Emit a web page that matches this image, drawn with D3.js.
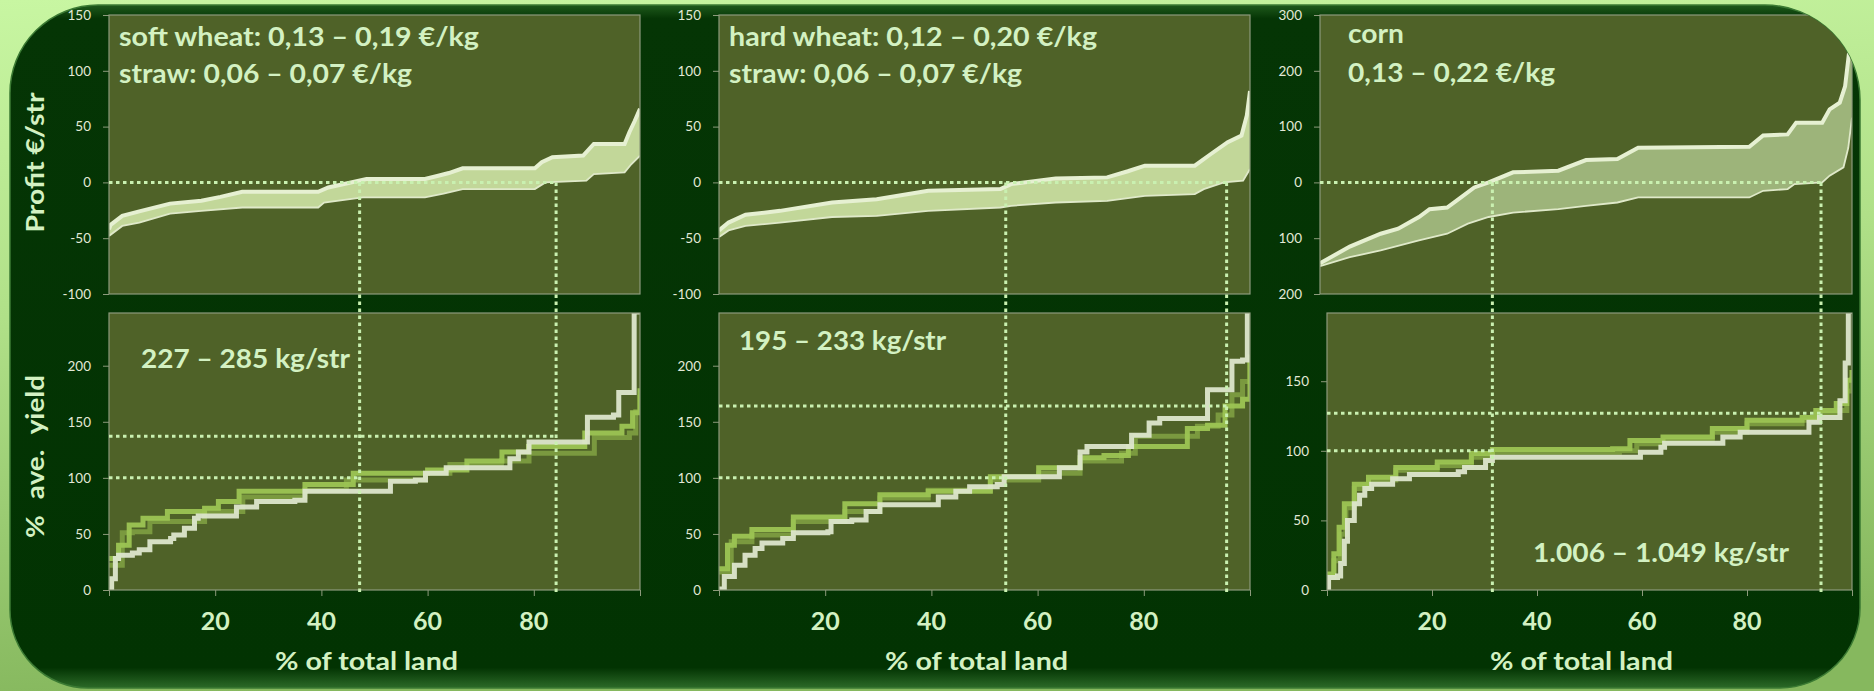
<!DOCTYPE html>
<html><head><meta charset="utf-8">
<script src="https://cdn.jsdelivr.net/npm/d3@7"></script>
<style>html,body{margin:0;padding:0;background:#b6e48c;overflow:hidden}text{font-family:Lato,"Open Sans",sans-serif}</style>
</head><body><svg id="c" width="1874" height="691"></svg>
<script>
// ---------- DATA ----------
const xTickValues = [20, 40, 60, 80];
const xTickMarks = [0, 20, 40, 60, 80, 100];
const profitTicksWheat = [-100, -50, 0, 50, 100, 150];
const profitLabelsWheat = ["-100", "-50", "0", "50", "100", "150"];
const profitTicksCorn = [-200, -100, 0, 100, 200, 300];
const profitLabelsCorn = ["200", "100", "0", "100", "200", "300"];
const yieldTicksWheat = [0, 50, 100, 150, 200];
const yieldTicksCorn = [0, 50, 100, 150];

const profitTitle = "Profit €/str";
const yieldTitle = "% ave. yield";
const xTitle = "% of total land";

const softPriceText = ["soft wheat: 0,13 – 0,19 €/kg", "straw: 0,06 – 0,07 €/kg"];
const hardPriceText = ["hard wheat: 0,12 – 0,20 €/kg", "straw: 0,06 – 0,07 €/kg"];
const cornPriceText = ["corn", "0,13 – 0,22 €/kg"];
const softYieldText = "227 – 285 kg/str";
const hardYieldText = "195 – 233 kg/str";
const cornYieldText = "1.006 – 1.049 kg/str";

// profit bands [% of land, €/str]
const softProfitHigh = [[0,-42],[0.3,-38],[2.5,-30],[5.7,-26],[11.5,-19],[17.4,-16.5],[21,-13],[25.1,-8.4],[39.4,-8.4],[41.3,-4.5],[48.5,3],[59.5,3],[62,6],[64,8.4],[66.6,12.6],[80.2,12.6],[81.5,18],[83.5,22.5],[89.3,24],[91.3,34.4],[97.1,34.4],[98,45],[99,55],[100,66]];
const softProfitLow = [[0,-48],[2.5,-39],[5.7,-36],[11.5,-28],[17.4,-25.5],[25.1,-22.5],[39.4,-22.5],[40.5,-18],[47.8,-13.5],[59.5,-13.5],[63,-10],[66.6,-6],[80.2,-6],[82.2,0],[89.9,1.5],[91.3,7.5],[97.1,9],[98.4,16.5],[100,24]];
const hardProfitHigh = [[0,-43],[1.8,-36],[5,-29],[11.5,-25.5],[21.3,-18],[29.7,-15],[39.4,-7.5],[53,-6],[55,-1.5],[63.4,3.6],[73.1,4.5],[77,10],[80.2,15],[89.6,15],[92.5,25],[95.8,36],[98.4,42],[99.4,60],[100,82]];
const hardProfitLow = [[0,-49],[1.8,-43],[5,-39],[11.5,-36],[21.3,-31],[29.7,-30],[39.4,-25.5],[53,-22.5],[55,-21],[63.4,-18],[73.1,-16.5],[80.2,-12],[89.6,-10.5],[91.3,-6],[95.1,0],[98.7,1.5],[100,12]];
const cornProfitHigh = [[0,-145],[5.6,-115],[11.4,-92],[14.7,-83],[18.6,-62],[20.6,-48],[23.9,-45],[26.5,-27],[29,-9],[31.7,0],[36.3,18],[44.8,21],[50,40],[55.9,42],[59.8,62],[80.7,64],[83.3,84],[87.9,86],[89.5,107],[94.4,107],[95.8,131],[97.7,143],[98.7,172],[99.7,253],[100,295]];
const cornProfitLow = [[0,-150],[5.6,-134],[11.4,-122],[18.6,-104],[23.9,-92],[27.8,-74],[31.7,-62],[36.3,-54],[44.8,-48],[50,-42],[55.9,-36],[59.8,-27],[80.7,-27],[83.3,-15],[87.9,-12],[89.2,-3],[94.4,0],[95.8,12],[98.4,27],[99.3,62],[100,116]];

// yield curves [% of land, % of average yield]
const softYieldWhite = [[0,0],[0.5,10],[1.2,28],[1.8,31],[4.4,33],[5.7,36],[7.7,43],[11.6,46],[12.2,49],[14.2,55],[16.1,64],[16.8,66],[24,74],[27.8,79],[35,80],[36.9,88],[53,97],[57.7,98],[59.6,104],[63.5,109],[75.5,117],[77.1,123],[79.1,132],[90.1,154],[95,156],[96,176],[98.9,248],[100,248]];
const softYieldBright = [[0,28],[1.8,40],[3.8,58],[6.4,64],[11,70],[18,73],[20.6,79],[24.5,88],[36.9,94],[46,104],[60,107],[67.4,115],[74,123],[79,128],[89.6,140],[96.6,146],[98.6,158],[100,180]];
const softYieldMid = [[0,22],[2.5,51],[4.4,52],[7.7,61],[18,70],[25.2,83],[36.9,89],[44.7,98],[59.6,104],[64.2,112],[73.9,115],[79.1,122],[91.4,136],[98,140],[99.2,159],[100,174]];
const hardYieldWhite = [[0,1],[1,12],[2.9,22],[4.9,31],[6.8,37],[8.1,42],[12,46],[14,51],[20.5,52],[21.1,61],[25,62.5],[27.7,70],[30.3,76],[40,76],[41.3,83],[44.6,88],[47.2,92],[52.4,94],[53.7,101],[62.1,101],[64.1,109],[68,123],[69.3,128],[75.8,128],[77.7,138],[81,149],[83,153],[90.1,153],[92,178.5],[95.3,178.5],[96.6,204],[98.6,205],[99.5,248],[100,248]];
const hardYieldBright = [[0,19],[1.6,40],[2.9,48],[6.2,54],[14,65],[23.7,77],[30.3,85],[39.4,88],[51.1,101],[60.2,109],[68,118],[72.5,120],[77.1,128],[86.2,128],[88.2,144],[92,147],[95.3,164],[98.6,170],[100,210]];
const hardYieldMid = [[0,16],[2.3,43],[6.2,49],[14,61],[23.7,70],[30.3,82],[39.4,89],[51.1,98],[60.2,104],[68,115],[75.8,122],[78.4,137],[88.2,137],[90.1,146],[94,156],[96.6,174],[98.6,186],[100,204]];
const cornYieldWhite = [[0,0],[0.3,9],[2,10],[2.6,19],[3.3,35],[3.9,50],[5.2,62],[6.2,68],[7.2,73],[8.5,76],[12.5,80],[15.7,83],[25,85],[26.2,88],[30.2,93],[31.5,95.4],[57.7,95.4],[59.7,99],[63.6,102.6],[64.3,105.5],[74,105.5],[75.4,110],[78.7,113.4],[91.8,120.6],[93.8,124],[97.7,136],[98.7,163],[99.3,200],[100,200]];
const cornYieldBright = [[0,11.5],[1.3,26],[2.3,45],[3.3,62],[5.2,76],[7.9,81],[13.1,88],[21,92],[27.5,98],[31.5,101],[54.4,101.4],[57.7,107.4],[64,110],[73.4,116],[80,122],[90.5,124],[93.1,129],[97,134],[99,150.6],[100,158]];
const cornYieldMid = [[0,9],[1.3,21],[2.5,40],[3.6,59],[5.2,73],[7.9,79],[13.1,86],[21,89.5],[27.5,95.4],[31.5,99],[55.7,100],[59,105],[64.3,107.4],[73.4,113.4],[80,119.4],[90.5,122],[93.8,126.6],[97,129],[99,143],[100,153]];

// break-even / reference marks
const softCutX = [47.2, 84.2], softRefY = [100, 137];
const hardCutX = [54.0, 95.6], hardRefY = [100, 164];
const cornCutX = [31.5, 94.1], cornRefY = [100, 127];

// ---------- LAYOUT ----------
const svg = d3.select("#c");
const W = 1874, H = 691;
const TXT = "#d3f1c2";
const defs = svg.append("defs");
const bg = defs.append("linearGradient").attr("id","bg").attr("x1",0).attr("y1",0).attr("x2",0.15).attr("y2",1);
bg.append("stop").attr("offset","0%").attr("stop-color","#c8f6a2");
bg.append("stop").attr("offset","45%").attr("stop-color","#b0e088");
bg.append("stop").attr("offset","100%").attr("stop-color","#86b85e");
svg.append("rect").attr("width",W).attr("height",H).attr("fill","url(#bg)");

function rr(x,y,w,h,tl,tr,br,bl){
  return `M${x+tl},${y}H${x+w-tr}A${tr},${tr} 0 0 1 ${x+w},${y+tr}V${y+h-br}A${br},${br} 0 0 1 ${x+w-br},${y+h}H${x+bl}A${bl},${bl} 0 0 1 ${x},${y+h-bl}V${y+tl}A${tl},${tl} 0 0 1 ${x+tl},${y}Z`;
}
const frameD = rr(10,5,1850,683,88,95,80,78);
defs.append("clipPath").attr("id","frameClip").append("path").attr("d",frameD);
const fg = defs.append("linearGradient").attr("id","fg").attr("x1",0).attr("y1",0).attr("x2",0).attr("y2",1);
fg.append("stop").attr("offset","0%").attr("stop-color","#1f5a1c");
fg.append("stop").attr("offset","2%").attr("stop-color","#053505");
fg.append("stop").attr("offset","97%").attr("stop-color","#023302");
fg.append("stop").attr("offset","100%").attr("stop-color","#2c6a28");
svg.append("path").attr("d",frameD).attr("fill","url(#fg)").attr("stroke","#3b7a33").attr("stroke-width",1.5);

const root = svg.append("g").attr("clip-path","url(#frameClip)");

const TOP = [294, 15], BOT = [590, 313];

const panels = [
  {id:"soft", xT:[109,640], xB:[109,640], pDom:[-100,150], pTicks:profitTicksWheat, pLabels:profitLabelsWheat,
   yDom:[0,247], yTicks:yieldTicksWheat, hi:softProfitHigh, lo:softProfitLow,
   lines:[softYieldMid, softYieldBright, softYieldWhite], cut:softCutX, ref:softRefY, band:"#c2d799",
   priceText:softPriceText, priceX:119, priceY:[46,83], priceLen:[360,293], priceFs:26,
   yText:softYieldText, yTextX:141, yTextY:368, yTextLen:209, titles:true},
  {id:"hard", xT:[719,1250], xB:[719,1250], pDom:[-100,150], pTicks:profitTicksWheat, pLabels:profitLabelsWheat,
   yDom:[0,247], yTicks:yieldTicksWheat, hi:hardProfitHigh, lo:hardProfitLow,
   lines:[hardYieldMid, hardYieldBright, hardYieldWhite], cut:hardCutX, ref:hardRefY, band:"#c2d799",
   priceText:hardPriceText, priceX:729, priceY:[46,83], priceLen:[368,293], priceFs:26,
   yText:hardYieldText, yTextX:739, yTextY:350, yTextLen:207, titles:false},
  {id:"corn", xT:[1320,1852], xB:[1327,1852], pDom:[-200,300], pTicks:profitTicksCorn, pLabels:profitLabelsCorn,
   yDom:[0,199], yTicks:yieldTicksCorn, hi:cornProfitHigh, lo:cornProfitLow,
   lines:[cornYieldMid, cornYieldBright, cornYieldWhite], cut:cornCutX, ref:cornRefY, band:"#9db47a",
   priceText:cornPriceText, priceX:1348, priceY:[43,82], priceLen:[56,207], priceFs:26,
   yText:cornYieldText, yTextX:1533, yTextY:562, yTextLen:256, titles:false}
];
const lineColors = ["#7c9c40", "#9cc453", "#dde6cc"];
const PLOT_BG = "#4f6228", BORDER = "#8d9a7c", TICKC = "#e3e9d7";

panels.forEach((p,i) => {
  const xt = d3.scaleLinear().domain([0,100]).range(p.xT);
  const xb = d3.scaleLinear().domain([0,100]).range(p.xB);
  const yt = d3.scaleLinear().domain(p.pDom).range(TOP);
  const yb = d3.scaleLinear().domain(p.yDom).range(BOT);
  const g = root.append("g");

  g.append("rect").attr("x",p.xT[0]).attr("y",TOP[1]).attr("width",p.xT[1]-p.xT[0]).attr("height",TOP[0]-TOP[1]).attr("fill",PLOT_BG);
  g.append("rect").attr("x",p.xB[0]).attr("y",BOT[1]).attr("width",p.xB[1]-p.xB[0]).attr("height",BOT[0]-BOT[1]).attr("fill",PLOT_BG);
  defs.append("clipPath").attr("id","ct"+i).append("rect").attr("x",p.xT[0]).attr("y",TOP[1]).attr("width",p.xT[1]-p.xT[0]).attr("height",TOP[0]-TOP[1]);
  defs.append("clipPath").attr("id","cb"+i).append("rect").attr("x",p.xB[0]).attr("y",BOT[1]).attr("width",p.xB[1]-p.xB[0]).attr("height",BOT[0]-BOT[1]);

  // profit band
  const ln = d3.line().x(d=>xt(d[0])).y(d=>yt(d[1]));
  const gt = g.append("g").attr("clip-path",`url(#ct${i})`);
  const poly = p.hi.concat(p.lo.slice().reverse());
  gt.append("path").attr("d", ln(poly)+"Z").attr("fill",p.band);
  gt.append("path").attr("d", ln(p.hi)).attr("fill","none").attr("stroke","#e6f0d2").attr("stroke-width",4);
  gt.append("path").attr("d", ln(p.lo)).attr("fill","none").attr("stroke","#dfe9c9").attr("stroke-width",1.8);

  // yield step lines
  const sl = d3.line().x(d=>xb(d[0])).y(d=>yb(d[1])).curve(d3.curveStepAfter);
  const gb = g.append("g").attr("clip-path",`url(#cb${i})`);
  p.lines.forEach((s,k)=>{
    gb.append("path").attr("d",sl(s)).attr("fill","none").attr("stroke",lineColors[k]).attr("stroke-width",5).attr("stroke-opacity",0.95);
  });

  [[p.xT,TOP],[p.xB,BOT]].forEach(([xr,yr])=>{
    g.append("rect").attr("x",xr[0]).attr("y",yr[1]).attr("width",xr[1]-xr[0]).attr("height",yr[0]-yr[1])
      .attr("fill","none").attr("stroke",BORDER).attr("stroke-width",1.2);
  });

  // y axes
  const ayT = d3.axisLeft(yt).tickValues(p.pTicks).tickSize(6).tickPadding(12).tickFormat((d,j)=>p.pLabels[j]);
  const gay = g.append("g").attr("transform",`translate(${p.xT[0]},0)`).call(ayT);
  const ayB = d3.axisLeft(yb).tickValues(p.yTicks).tickSize(6).tickPadding(12).tickFormat(d3.format("d"));
  const gby = g.append("g").attr("transform",`translate(${p.xB[0]},0)`).call(ayB);
  [gay,gby].forEach(a=>{
    a.select(".domain").remove();
    a.selectAll(".tick line").attr("stroke",BORDER);
    a.selectAll(".tick text").attr("fill",TICKC).attr("font-size",13.5).attr("font-family","Lato, sans-serif");
  });

  // x axis
  const axB = d3.axisBottom(xb).tickValues(xTickMarks).tickSize(6).tickFormat("");
  const gbx = g.append("g").attr("transform",`translate(0,${BOT[0]})`).call(axB);
  gbx.select(".domain").remove();
  gbx.selectAll(".tick line").attr("stroke",BORDER);
  g.selectAll(null).data(xTickValues).enter().append("text")
    .attr("x",d=>xb(d)).attr("y",630).attr("text-anchor","middle")
    .attr("fill",TXT).attr("font-size",25).attr("font-weight",700).text(d=>d);
  g.append("text").attr("x",(p.xB[0]+p.xB[1])/2 - 8).attr("y",670).attr("text-anchor","middle")
    .attr("fill",TXT).attr("font-size",25).attr("font-weight",700)
    .attr("textLength",183).attr("lengthAdjust","spacingAndGlyphs").text(xTitle);

  // reference dotted lines
  const dot = sel => sel.attr("stroke","#c9f0b0").attr("stroke-width",3).attr("stroke-dasharray","3.5,3.5").attr("fill","none");
  dot(g.append("line").attr("x1",xt(0)).attr("x2",xb(p.cut[1])).attr("y1",yt(0)).attr("y2",yt(0)));
  dot(g.append("line").attr("x1",xb(0)).attr("x2",xb(p.cut[0])).attr("y1",yb(p.ref[0])).attr("y2",yb(p.ref[0])));
  dot(g.append("line").attr("x1",xb(0)).attr("x2",xb(p.cut[1])).attr("y1",yb(p.ref[1])).attr("y2",yb(p.ref[1])));
  p.cut.forEach(c=>{
    dot(g.append("line").attr("x1",xb(c)).attr("x2",xb(c)).attr("y1",yt(0)).attr("y2",BOT[0]+4));
  });

  // annotations
  p.priceText.forEach((t,j)=>{
    g.append("text").attr("x",p.priceX).attr("y",p.priceY[j]).attr("fill",TXT)
      .attr("font-size",p.priceFs).attr("font-weight",700)
      .attr("textLength",p.priceLen[j]).attr("lengthAdjust","spacingAndGlyphs").text(t);
  });
  g.append("text").attr("x",p.yTextX).attr("y",p.yTextY).attr("fill",TXT)
    .attr("font-size",27).attr("font-weight",700)
    .attr("textLength",p.yTextLen).attr("lengthAdjust","spacingAndGlyphs").text(p.yText);

  if (p.titles) {
    g.append("text").attr("transform",`translate(44,${(TOP[0]+TOP[1])/2+8}) rotate(-90)`).attr("text-anchor","middle")
      .attr("fill",TXT).attr("font-size",24).attr("font-weight",700)
      .attr("textLength",140).attr("lengthAdjust","spacingAndGlyphs").text(profitTitle);
    g.append("text").attr("transform",`translate(44,${(BOT[0]+BOT[1])/2+5}) rotate(-90)`).attr("text-anchor","middle")
      .attr("fill",TXT).attr("font-size",24).attr("font-weight",700).attr("word-spacing",8)
      .attr("textLength",163).attr("lengthAdjust","spacingAndGlyphs").text(yieldTitle);
  }
});
</script></body></html>
